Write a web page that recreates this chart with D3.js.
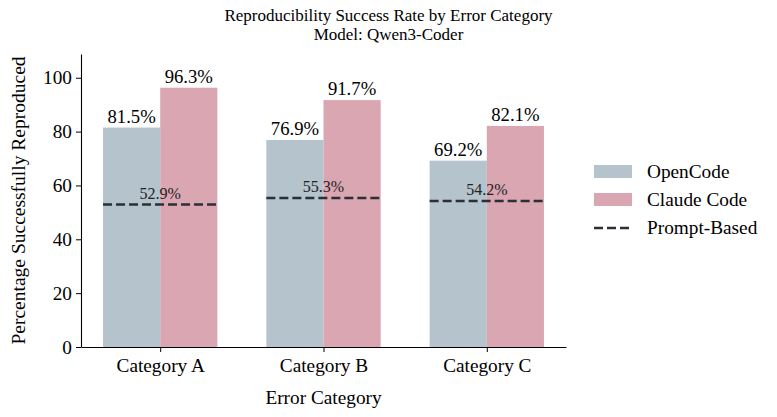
<!DOCTYPE html>
<html>
<head>
<meta charset="utf-8">
<script src="https://cdn.jsdelivr.net/npm/d3@7"></script>
<style>
  body { margin: 0; background: #fff; }
  text { font-family: "Liberation Serif", "Times New Roman", serif; fill: #000; }
</style>
</head>
<body>
<div id="chart"></div>
<script>
const categories = ["Category A", "Category B", "Category C"];
const openCode = [81.5, 76.9, 69.2];
const claudeCode = [96.3, 91.7, 82.1];
const promptBased = [52.9, 55.3, 54.2];
const yTicks = [0, 20, 40, 60, 80, 100];

const width = 777;
const height = 417;
const margin = { top: 54, right: 211, bottom: 70, left: 81 };

const colors = { open: "#b5c3cc", claude: "#d9a6b1", prompt: "#2b2f36" };
const serif = "'Liberation Serif', 'Times New Roman', serif";

const svg = d3.select("#chart")
    .append("svg")
    .attr("width", width)
    .attr("height", height);

// bar index positions like matplotlib: 0,1,2 with width 0.35 each
const barW = 0.35;
const x = d3.scaleLinear()
    .domain([-0.485, categories.length - 1 + 0.485])
    .range([margin.left, width - margin.right]);
const y = d3.scaleLinear()
    .domain([0, d3.max(claudeCode) * 1.13])
    .range([height - margin.bottom, margin.top]);

// bars
const series = [
    { key: "open", values: openCode, offset: -barW },
    { key: "claude", values: claudeCode, offset: 0 }
];
series.forEach(s => {
    svg.append("g").selectAll("rect")
        .data(s.values)
        .join("rect")
        .attr("x", (d, i) => x(i + s.offset))
        .attr("width", x(barW) - x(0))
        .attr("y", d => y(d))
        .attr("height", d => y(0) - y(d))
        .attr("fill", colors[s.key]);

    svg.append("g").selectAll("text")
        .data(s.values)
        .join("text")
        .attr("x", (d, i) => x(i + s.offset + barW / 2))
        .attr("y", d => y(d) - 5)
        .attr("text-anchor", "middle")
        .style("font-size", "18.7px")
        .text(d => d.toFixed(1) + "%");
});

// prompt-based dashed lines
svg.append("g").selectAll("line")
    .data(promptBased)
    .join("line")
    .attr("x1", (d, i) => x(i - barW))
    .attr("x2", (d, i) => x(i + barW))
    .attr("y1", d => y(d))
    .attr("y2", d => y(d))
    .attr("stroke", colors.prompt)
    .attr("stroke-width", 2.5)
    .attr("stroke-dasharray", "9,4");

svg.append("g").selectAll("text")
    .data(promptBased)
    .join("text")
    .attr("x", (d, i) => x(i))
    .attr("y", d => y(d) - 6)
    .attr("text-anchor", "middle")
    .style("font-size", "16px")
    .style("fill", "#222")
    .text(d => d.toFixed(1) + "%");

// axes
const xAxis = svg.append("g")
    .attr("transform", `translate(0,${height - margin.bottom})`)
    .call(d3.axisBottom(x)
        .tickValues(categories.map((c, i) => i))
        .tickFormat(i => categories[i])
        .tickSize(5)
        .tickSizeOuter(0));
const yAxis = svg.append("g")
    .attr("transform", `translate(${margin.left},0)`)
    .call(d3.axisLeft(y).tickValues(yTicks).tickSize(5).tickSizeOuter(0));

[xAxis, yAxis].forEach(g => {
    g.attr("font-family", serif);
    g.select(".domain").attr("stroke", "#000").attr("stroke-width", 1.1);
    g.selectAll(".tick line").attr("stroke", "#000");
    g.selectAll(".tick text")
        .style("font-family", serif)
        .style("font-size", "19.3px")
        .attr("fill", "#000");
});
xAxis.selectAll(".tick text").attr("y", 8).attr("dy", "0.9em");
yAxis.selectAll(".tick text").attr("x", -9);

// axis labels
svg.append("text")
    .attr("x", (margin.left + width - margin.right) / 2)
    .attr("y", 404)
    .attr("text-anchor", "middle")
    .style("font-size", "19.3px")
    .text("Error Category");
svg.append("text")
    .attr("transform", "rotate(-90)")
    .attr("x", -(margin.top + height - margin.bottom) / 2)
    .attr("y", 25)
    .attr("text-anchor", "middle")
    .style("font-size", "19.5px")
    .text("Percentage Successfully Reproduced");

// title
svg.append("text")
    .attr("x", width / 2)
    .attr("y", 21)
    .attr("text-anchor", "middle")
    .style("font-size", "17px")
    .text("Reproducibility Success Rate by Error Category");
svg.append("text")
    .attr("x", width / 2)
    .attr("y", 40)
    .attr("text-anchor", "middle")
    .style("font-size", "17px")
    .text("Model: Qwen3-Coder");

// legend
const legendItems = [
    { label: "OpenCode", type: "rect", color: colors.open },
    { label: "Claude Code", type: "rect", color: colors.claude },
    { label: "Prompt-Based", type: "line", color: colors.prompt }
];
const legend = svg.append("g").attr("transform", "translate(594,172)");
legendItems.forEach((item, i) => {
    const g = legend.append("g").attr("transform", `translate(0,${i * 28})`);
    if (item.type === "rect") {
        g.append("rect")
            .attr("x", 0).attr("y", -7)
            .attr("width", 38).attr("height", 13)
            .attr("fill", item.color);
    } else {
        g.append("line")
            .attr("x1", 0).attr("x2", 38)
            .attr("y1", 0).attr("y2", 0)
            .attr("stroke", item.color)
            .attr("stroke-width", 2.5)
            .attr("stroke-dasharray", "9,4");
    }
    g.append("text")
        .attr("x", 53)
        .attr("y", 6)
        .style("font-size", "19.3px")
        .text(item.label);
});
</script>
</body>
</html>
